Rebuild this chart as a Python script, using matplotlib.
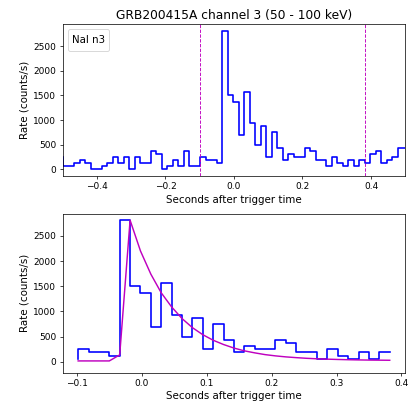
import numpy as np
import matplotlib
matplotlib.use('Agg')
import matplotlib.pyplot as plt
from matplotlib.lines import Line2D

# ---- data ----
title = "GRB200415A channel 3 (50 - 100 keV)"
detector = "NaI n3"
bin_start = -0.498   # time of first step point (s)
bin_width = 0.016    # s
rates = [250, 62.5, 62.5, 125, 187.5, 125, 0, 0, 62.5, 125,
         250, 125, 250, 0, 250, 125, 125, 375, 312.5, 0,
         62.5, 187.5, 62.5, 375, 62.5, 62.5, 250, 187.5, 187.5, 125,
         2812.5, 1500, 1375, 687.5, 1562.5, 937.5, 500, 875, 250, 750,
         437.5, 187.5, 312.5, 250, 250, 437.5, 375, 187.5, 187.5, 62.5,
         250, 125, 62.5, 187.5, 62.5, 187.5, 125, 312.5, 375, 125,
         187.5, 250, 437.5, 437.5]
fit_first, fit_last = 25, 55   # indices of the fitted interval
fit_rates = [20, 20, 20, 20, 140, 2810, 2200, 1740, 1370, 1090,
             860, 680, 540, 430, 345, 275, 220, 180, 145, 120,
             100, 85, 72, 62, 55, 49, 44, 40, 37, 35, 33]

times = bin_start + bin_width * np.arange(len(rates))
rates = np.array(rates)
sel = slice(fit_first, fit_last + 1)

DPI = 65
LABEL_FS = 11.3
TICK_FS = 10
fig = plt.figure(figsize=(409 / DPI, 401 / DPI), dpi=DPI)
ax1 = fig.add_axes([0.153, 0.561, 0.838, 0.379])
ax2 = fig.add_axes([0.153, 0.071, 0.838, 0.395])

ax1.step(times, rates, where='pre', color='b', lw=1.8)
ax1.axvline(times[fit_first], color='m', ls='--', lw=1)
ax1.axvline(times[fit_last], color='m', ls='--', lw=1)
ax1.set_xlim(-0.5, 0.5)
ax1.set_title(title, fontsize=13.5)
ax1.set_xlabel("Seconds after trigger time", fontsize=LABEL_FS)
ax1.set_ylabel("Rate (counts/s)", fontsize=LABEL_FS)
ax1.legend(handles=[Line2D([], [], ls='none')], labels=[detector],
           loc='upper left', handlelength=0, handletextpad=0, handleheight=1.7,
           fontsize=LABEL_FS)

ax2.step(times[sel], rates[sel], where='pre', color='b', lw=1.8)
ax2.plot(times[sel], fit_rates, color='m', lw=1.6)
ax2.set_ylim(-210, 2930)
ax2.set_xlabel("Seconds after trigger time", fontsize=LABEL_FS)
ax2.set_ylabel("Rate (counts/s)", fontsize=LABEL_FS)

for ax in (ax1, ax2):
    ax.tick_params(labelsize=TICK_FS)

fig.savefig("out.png", dpi=DPI)
